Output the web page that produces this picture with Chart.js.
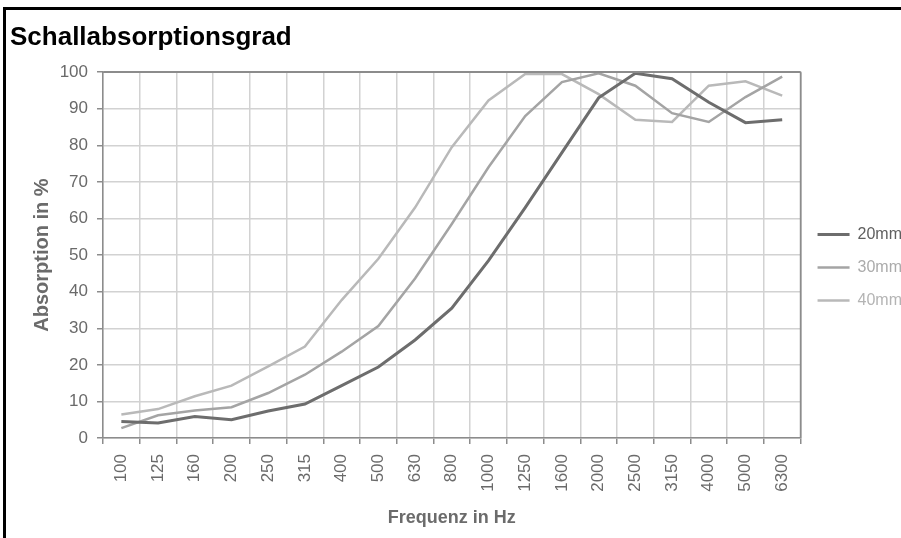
<!DOCTYPE html>
<html>
<head>
<meta charset="utf-8">
<script src="https://cdn.jsdelivr.net/npm/chart.js@4.4.1/dist/chart.umd.min.js"></script>
<style>
  html, body { margin: 0; padding: 0; background: #fff; overflow: hidden; }
  #wrap { position: relative; width: 901px; height: 538px; overflow: hidden; }
  #frame {
    position: absolute; left: 3px; top: 7px; width: 1000px; height: 600px;
    border-top: 3px solid #000; border-left: 3px solid #000;
  }
  #chart { position: absolute; left: 0; top: 0; }
</style>
</head>
<body>
<div id="wrap">
  <div id="frame"></div>
  <canvas id="chart" width="912" height="538"></canvas>
</div>
<script>
const frequencies = ['100', '125', '160', '200', '250', '315', '400', '500', '630', '800',
  '1000', '1250', '1600', '2000', '2500', '3150', '4000', '5000', '6300'];
const absorption20mm = [4.5, 4.1, 5.9, 5.0, 7.4, 9.3, 14.3, 19.4, 26.8, 35.5,
  48.5, 63, 78, 93, 99.7, 98.2, 91.8, 86.2, 87.0];
const absorption30mm = [2.7, 6.2, 7.5, 8.4, 12.3, 17.3, 23.6, 30.6, 43.6, 58.5,
  74, 88, 97.3, 99.7, 96.3, 88.8, 86.4, 93.2, 98.8];
const absorption40mm = [6.4, 7.9, 11.4, 14.3, 19.6, 25, 37.7, 49, 63, 79.5,
  92.3, 99.5, 99.5, 94, 87, 86.4, 96.3, 97.5, 93.6];
const seriesNames = ['20mm', '30mm', '40mm'];
const yTicks = [0, 10, 20, 30, 40, 50, 60, 70, 80, 90, 100];

const FONT = "'Liberation Sans', Arial, Helvetica, sans-serif";
const lineColors = ['#6d6d6d', '#a4a4a4', '#b9b9b9'];
const textColors = ['#5f5f5f', '#ababab', '#b4b4b4'];
const gridColor = '#d2d2d2';
const axisColor = '#8c8c8c';

let ctx = document.getElementById('chart').getContext('2d');

// dark frame around the plot area (top and right edge)
const plotFrame = {
  id: 'plotFrame',
  afterDatasetsDraw(chart) {
    const a = chart.chartArea;
    const c = chart.ctx;
    c.save();
    c.strokeStyle = axisColor;
    c.lineWidth = 1.5;
    c.beginPath();
    c.moveTo(a.left, a.top);
    c.lineTo(a.right, a.top);
    c.lineTo(a.right, a.bottom);
    c.stroke();
    c.restore();
  }
};

new Chart(ctx, {
  type: 'line',
  data: {
    labels: frequencies,
    datasets: [
      { label: seriesNames[0], data: absorption20mm, borderColor: lineColors[0], borderWidth: 3 },
      { label: seriesNames[1], data: absorption30mm, borderColor: lineColors[1], borderWidth: 2.5 },
      { label: seriesNames[2], data: absorption40mm, borderColor: lineColors[2], borderWidth: 2.5 }
    ]
  },
  plugins: [plotFrame],
  options: {
    responsive: false,
    animation: false,
    elements: {
      line: { tension: 0, fill: false },
      point: { radius: 0, hoverRadius: 0, pointStyle: 'line' }
    },
    layout: { padding: { left: 10, top: 6, right: 0, bottom: 9 } },
    scales: {
      x: {
        offset: true,
        grid: { offset: true, color: c => c.type === 'tick' ? gridColor : axisColor, lineWidth: 1.5,
          tickColor: axisColor, tickLength: 6 },
        border: { color: axisColor, width: 1.5 },
        ticks: { color: '#6a6a6a', font: { family: FONT, size: 17 }, padding: 10,
          minRotation: 90, maxRotation: 90, autoSkip: false },
        title: { display: true, text: 'Frequenz in Hz', color: '#6b6b6b',
          font: { family: FONT, size: 18, weight: 'bold' }, padding: { top: 0, bottom: 0 } },
        afterFit(scale) { scale.height = 91; }
      },
      y: {
        min: 0, max: 100,
        afterBuildTicks(scale) { scale.ticks = yTicks.map(v => ({ value: v })); },
        grid: { color: c => c.tick && c.tick.value === 100 ? axisColor : gridColor, lineWidth: 1.5,
          tickColor: axisColor, tickLength: 6 },
        border: { color: axisColor, width: 1.5 },
        ticks: { color: '#6a6a6a', font: { family: FONT, size: 17 }, padding: 9 },
        title: { display: true, text: 'Absorption in %', color: '#6b6b6b',
          font: { family: FONT, size: 20, weight: 'bold' }, padding: { top: 20, bottom: 0 } },
        afterFit(scale) { scale.width = 93; }
      }
    },
    plugins: {
      title: {
        display: true, text: 'Schallabsorptionsgrad', align: 'start', color: '#000',
        font: { family: FONT, size: 26, weight: 'bold' }, padding: { top: 16, bottom: 19 }
      },
      legend: {
        position: 'right',
        labels: {
          usePointStyle: true, pointStyle: 'line', pointStyleWidth: 32,
          padding: 17, font: { family: FONT, size: 16 },
          generateLabels(chart) {
            const items = Chart.defaults.plugins.legend.labels.generateLabels(chart);
            items.forEach((it, i) => { it.fontColor = textColors[i]; });
            return items;
          }
        }
      },
      tooltip: { enabled: false }
    }
  }
});
</script>
</body>
</html>
